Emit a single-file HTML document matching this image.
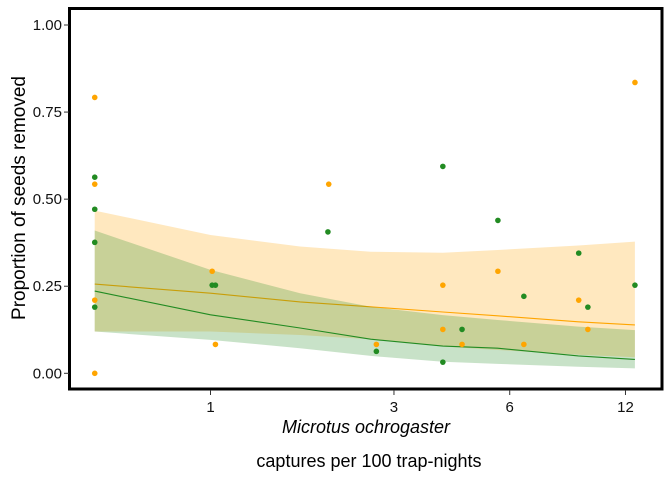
<!DOCTYPE html>
<html><head><meta charset="utf-8"><style>
body{margin:0;background:#fff}
svg{display:block;font-family:"Liberation Sans",Arial,sans-serif}
</style></head><body>
<svg id="chart" width="672" height="480" viewBox="0 0 672 480">
<rect x="0" y="0" width="672" height="480" fill="#fff"/>
<g id="marks"></g>
<rect x="69.5" y="8.5" width="592.5" height="380.5" fill="none" stroke="#000" stroke-width="3"/>
<g id="axes"></g>
<text x="25" y="198" transform="rotate(-90 25 198)" text-anchor="middle" font-size="19" fill="#000">Proportion of seeds removed</text>
<text x="366" y="433" text-anchor="middle" font-size="18" font-style="italic" fill="#000">Microtus ochrogaster</text>
<text x="369" y="467" text-anchor="middle" font-size="18" fill="#000">captures per 100 trap-nights</text>
</svg>
<script>
const xTicks=[1,3,6,12];
const yTicks=[0,0.25,0.5,0.75,1];
const yTickLabels=["0.00","0.25","0.50","0.75","1.00"];
const fitX=[0.5,1,1.71,2.61,4.02,5.58,9.05,12.7];
const orangeFit=[0.256,0.23,0.205,0.191,0.176,0.165,0.148,0.139];
const orangeUpper=[0.467,0.397,0.364,0.349,0.346,0.354,0.367,0.378];
const orangeLower=[0.12,0.12,0.11,0.098,0.077,0.067,0.053,0.046];
const greenFit=[0.236,0.168,0.13,0.098,0.078,0.072,0.05,0.04];
const greenUpper=[0.41,0.297,0.23,0.191,0.167,0.153,0.134,0.124];
const greenLower=[0.12,0.096,0.072,0.05,0.033,0.027,0.019,0.014];
const orangeX=[0.5,0.5,0.5,0.5,1.01,1.03,2.03,2.7,4.02,4.02,4.51,5.59,6.53,9.07,9.58,12.7];
const orangeY=[0.792,0.543,0.21,0,0.293,0.083,0.543,0.083,0.253,0.126,0.083,0.293,0.083,0.21,0.126,0.835];
const greenX=[0.5,0.5,0.5,0.5,1.01,1.03,2.02,2.7,4.02,4.02,4.51,5.59,6.53,9.07,9.58,12.7];
const greenY=[0.563,0.471,0.376,0.19,0.253,0.253,0.406,0.063,0.594,0.032,0.126,0.439,0.221,0.345,0.19,0.253];

const NS="http://www.w3.org/2000/svg";
const xs=v=>210.5+167*Math.log(v);
const ys=v=>373.3-348.3*v;
const marks=document.getElementById('marks');
const axes=document.getElementById('axes');
function mk(tag,attrs,parent){const e=document.createElementNS(NS,tag);for(const k in attrs)e.setAttribute(k,attrs[k]);parent.appendChild(e);return e;}
function ribbon(lo,hi,fill,name){
  let d="M"+fitX.map((x,i)=>xs(x).toFixed(1)+","+ys(hi[i]).toFixed(1)).join("L");
  for(let i=fitX.length-1;i>=0;i--)d+="L"+xs(fitX[i]).toFixed(1)+","+ys(lo[i]).toFixed(1);
  const p=mk('path',{d:d+"Z",fill:fill,'fill-opacity':0.25},marks);
  
  
}
function line(vals,color,name){
  const p=mk('path',{d:"M"+fitX.map((x,i)=>xs(x).toFixed(1)+","+ys(vals[i]).toFixed(1)).join("L"),fill:'none',stroke:color,'stroke-width':1.1},marks);
  
  
}
function points(X,Y,color,name){
  X.forEach((x,i)=>{const c=mk('circle',{cx:xs(x),cy:ys(Y[i]),r:2.8,fill:color},marks);
    
    });
}
ribbon(orangeLower,orangeUpper,'#FFA500','orange-confidence-band');
line(orangeFit,'#FFA500','orange-fit-line');
ribbon(greenLower,greenUpper,'#228B22','green-confidence-band');
line(greenFit,'#228B22','green-fit-line');
points(orangeX,orangeY,'#FFA500','orange-point');
points(greenX,greenY,'#228B22','green-point');
yTicks.forEach((v,i)=>{
  const t=mk('line',{x1:64,x2:69,y1:ys(v),y2:ys(v),stroke:'#333','stroke-width':1},axes);
  
  
  const l=mk('text',{x:62,y:ys(v)+5,'text-anchor':'end','font-size':15,fill:'#111'},axes);
  l.textContent=yTickLabels[i];
  
  
});
xTicks.forEach(v=>{
  const t=mk('line',{x1:xs(v),x2:xs(v),y1:390,y2:395,stroke:'#333','stroke-width':1},axes);
  
  
  const l=mk('text',{x:xs(v),y:412,'text-anchor':'middle','font-size':15,fill:'#111'},axes);
  l.textContent=String(v);
  
  
});
</script>
</body></html>
